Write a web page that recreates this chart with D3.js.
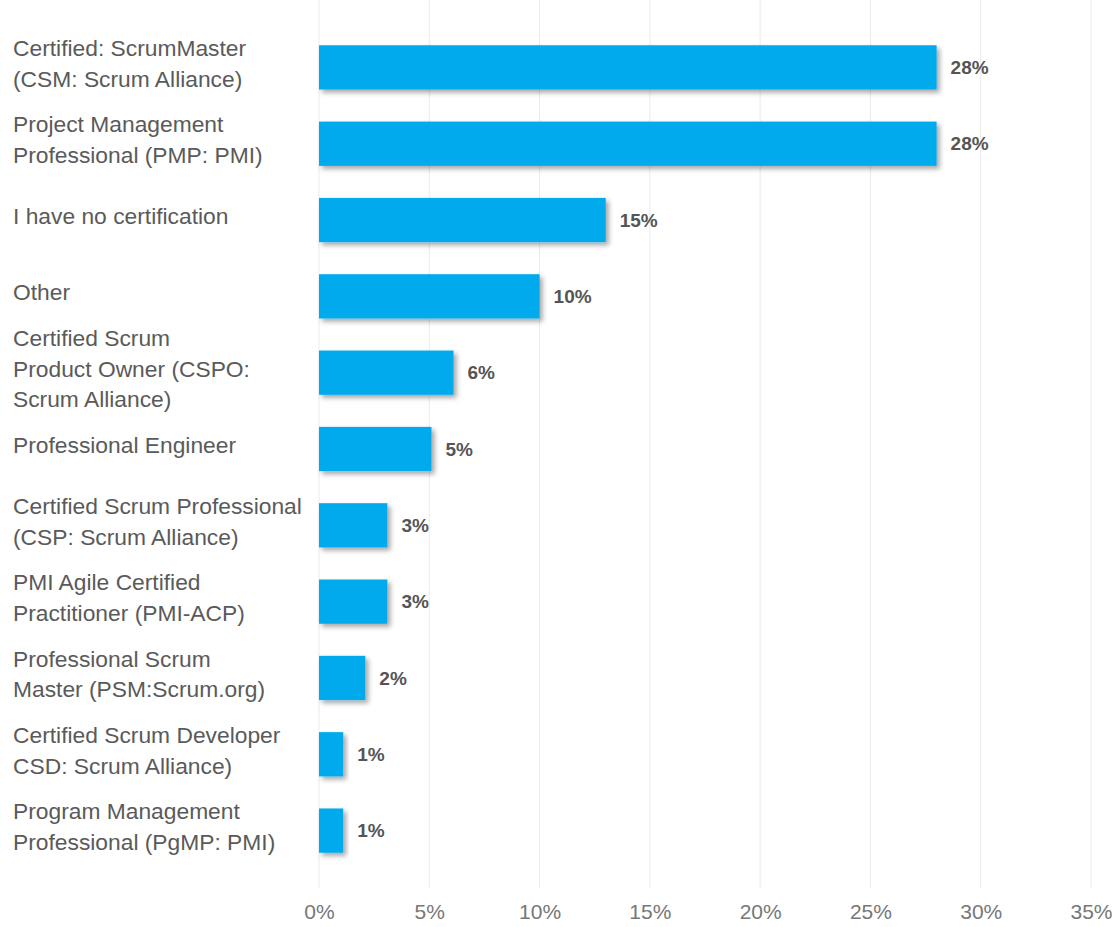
<!DOCTYPE html>
<html><head><meta charset="utf-8">
<script src="https://cdn.jsdelivr.net/npm/d3@7"></script>
<style>
html,body{margin:0;padding:0;background:#fff;}
svg{display:block;}
</style></head>
<body>
<svg id="chart" width="1114" height="927"></svg>
<script>
const categories = [
  ["Certified: ScrumMaster","(CSM: Scrum Alliance)"],
  ["Project Management","Professional (PMP: PMI)"],
  ["I have no certification"],
  ["Other"],
  ["Certified Scrum","Product Owner (CSPO:","Scrum Alliance)"],
  ["Professional Engineer"],
  ["Certified Scrum Professional","(CSP: Scrum Alliance)"],
  ["PMI Agile Certified","Practitioner (PMI-ACP)"],
  ["Professional Scrum","Master (PSM:Scrum.org)"],
  ["Certified Scrum Developer","CSD: Scrum Alliance)"],
  ["Program Management","Professional (PgMP: PMI)"]
];
const values = [28, 28, 13, 10, 6.1, 5.1, 3.1, 3.1, 2.1, 1.1, 1.1];
const valueLabels = ["28%","28%","15%","10%","6%","5%","3%","3%","2%","1%","1%"];
const ticks = [0,5,10,15,20,25,30,35];

const svg = d3.select("#chart");
const x = d3.scaleLinear().domain([0,35]).range([319,1091]);
const y = d3.scaleBand().domain(d3.range(categories.length)).range([30,868]).paddingInner(0.42).paddingOuter(0.2);

const defs = svg.append("defs");
const f = defs.append("filter").attr("id","sh").attr("x","-10%").attr("y","-20%").attr("width","130%").attr("height","160%");
f.append("feDropShadow").attr("dx",3).attr("dy",3).attr("stdDeviation",2.5).attr("flood-color","#000").attr("flood-opacity",0.35);

// gridlines
svg.append("g").selectAll("line").data(ticks).join("line")
  .attr("x1",d=>x(d)).attr("x2",d=>x(d)).attr("y1",0).attr("y2",888)
  .attr("stroke","#ebebeb").attr("stroke-width",1);

// axis
const ax = svg.append("g").attr("transform","translate(0,888)")
  .call(d3.axisBottom(x).tickValues(ticks).tickFormat(d=>d+"%").tickSize(0).tickPadding(16));
ax.select(".domain").remove();
ax.selectAll("text").attr("font-family","'Liberation Sans',Arial,sans-serif")
  .attr("font-size",21).attr("fill","#777");

// bars
svg.append("g").selectAll("rect").data(values).join("rect")
  .attr("x",x(0)).attr("y",(d,i)=>y(i)).attr("width",d=>x(d)-x(0)).attr("height",y.bandwidth())
  .attr("fill","#00aaec").attr("filter","url(#sh)");

// value labels
svg.append("g").selectAll("text").data(values).join("text")
  .attr("x",d=>x(d)+14).attr("y",(d,i)=>y(i)+y.bandwidth()/2)
  .attr("dy","0.35em")
  .attr("font-family","'Liberation Sans',Arial,sans-serif")
  .attr("font-weight","bold").attr("font-size",19).attr("fill","#555")
  .text((d,i)=>valueLabels[i]);

// category labels
const lh = 30.5;
const cg = svg.append("g");
categories.forEach((lines,i)=>{
  const cy = y(i)+y.bandwidth()/2 - 4;
  const t = cg.append("text")
    .attr("font-family","'Liberation Sans','Arial',sans-serif")
    .attr("font-size",22.8).attr("fill","#5a5a5a");
  lines.forEach((ln,j)=>{
    t.append("tspan").attr("x",13)
     .attr("y", cy + (j-(lines.length-1)/2)*lh)
     .attr("dy","0.35em").text(ln);
  });
});
</script>
</body></html>
